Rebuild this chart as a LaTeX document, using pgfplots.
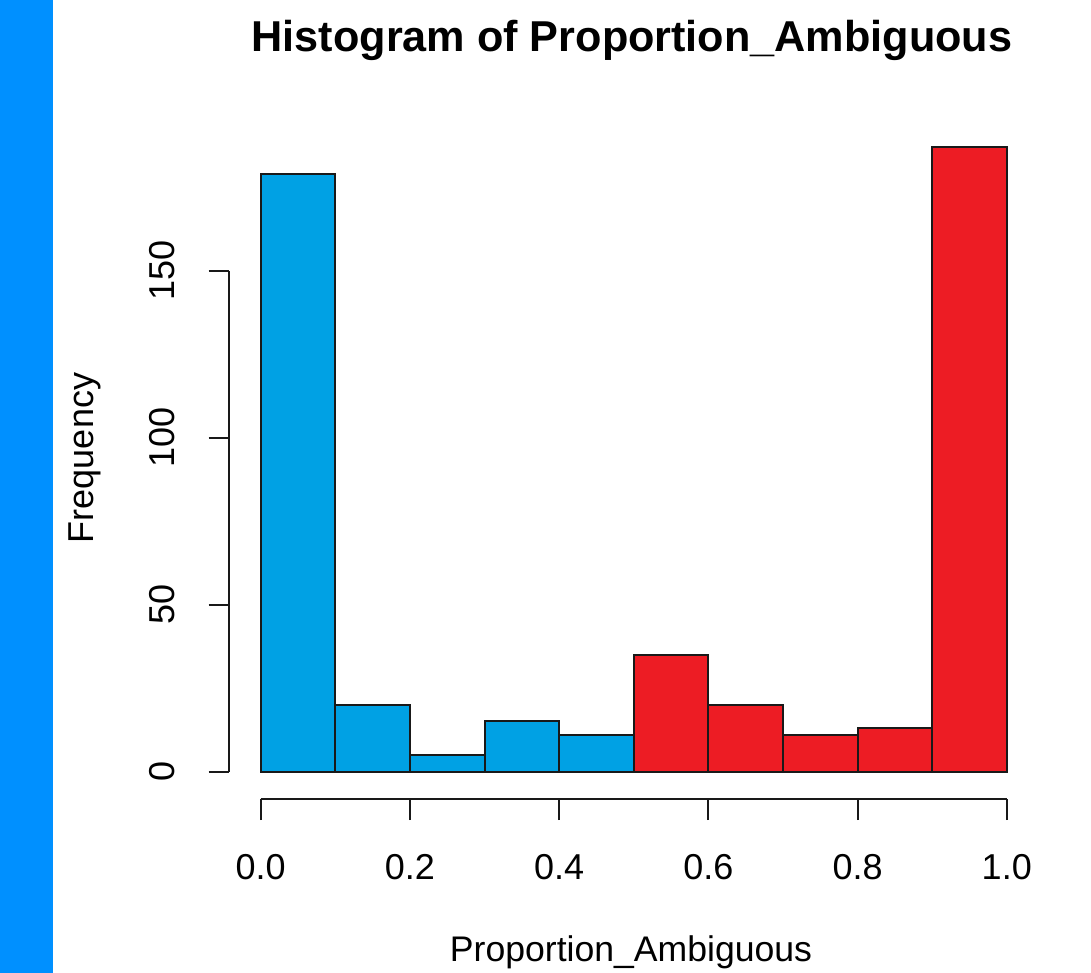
\documentclass[border=0pt]{standalone}
\usepackage{fontspec}
\setmainfont{Liberation Sans}
\usepackage{pgfplots}
\pgfplotsset{compat=1.18}

\definecolor{histblue}{HTML}{00A1E4}
\definecolor{histred}{HTML}{ED1C24}
\definecolor{stripblue}{HTML}{0090FF}

\begin{document}
\begin{tikzpicture}
\fill[white] (0,0) rectangle (545.5pt,486.5pt);
\path[use as bounding box] (0,0) rectangle (545.5pt,486.5pt);
\fill[stripblue] (0,0) rectangle (26.5pt,486.5pt);

\begin{axis}[
  at={(114.7pt,86.85pt)}, anchor=south west,
  scale only axis,
  width=403.6pt, height=338.7pt,
  xmin=-0.042, xmax=1.04,
  ymin=-8.3, ymax=194.5,
  clip=false,
  axis x line*=bottom, axis y line*=left,
  x axis line style={draw=none},
  y axis line style={draw=none},
  ybar, bar width=0.1, bar shift=0pt,
  xtick={0,0.2,0.4,0.6,0.8,1},
  xticklabels={0.0,0.2,0.4,0.6,0.8,1.0},
  ytick={0,50,100,150},
  yticklabels={0,50,100,150},
  tick align=outside,
  major tick length=10.4pt,
  every tick/.style={black!90, line width=1pt},
  tick label style={font=\fontsize{18}{21}\selectfont},
  xticklabel style={anchor=base, yshift=-29.5pt},
  yticklabel style={xshift=-17pt, rotate=90, anchor=base},
]
\addplot[fill=histblue, draw=black!90, line width=1pt] coordinates {
  (0.05,179) (0.15,20) (0.25,5) (0.35,15) (0.45,11)
};
\addplot[fill=histred, draw=black!90, line width=1pt] coordinates {
  (0.55,35) (0.65,20) (0.75,11) (0.85,13) (0.95,187)
};
\draw[black!90, line width=1pt] (axis cs:0,-8.3) -- (axis cs:1,-8.3);
\draw[black!90, line width=1pt] (axis cs:-0.042,0) -- (axis cs:-0.042,150);
\end{axis}

\node[anchor=base, font=\fontsize{21.6}{25}\selectfont\bfseries] at (316pt,460.65pt) {Histogram of Proportion\_Ambiguous};
\node[anchor=base, font=\fontsize{17.8}{21}\selectfont] at (315.5pt,5.65pt) {Proportion\_Ambiguous};
\node[anchor=base, rotate=90, font=\fontsize{18}{21}\selectfont] at (46.65pt,257.5pt) {Frequency};
\end{tikzpicture}
\end{document}
